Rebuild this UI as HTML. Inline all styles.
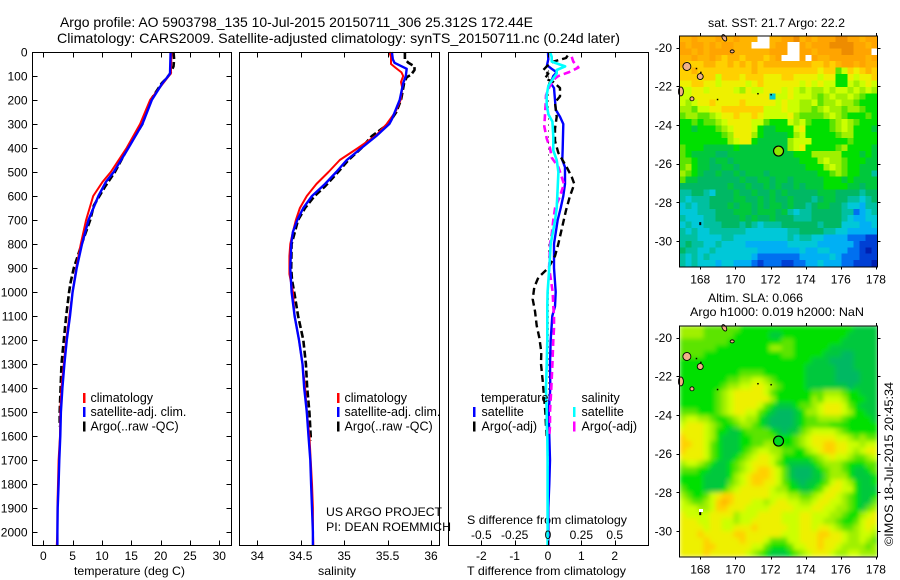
<!DOCTYPE html>
<html>
<head>
<meta charset="utf-8">
<title>Argo profile</title>
<style>
html,body{margin:0;padding:0;background:#fff;width:900px;height:580px;overflow:hidden}
svg{display:block}
text{font-family:"Liberation Sans",sans-serif;font-size:12px;fill:#000}
text.leg{font-size:12.5px}
</style>
</head>
<body>
<svg id="fig" xmlns="http://www.w3.org/2000/svg" width="900" height="580" viewBox="0 0 900 580">
<defs>
<filter id="slaSmooth" filterUnits="userSpaceOnUse" x="679.5" y="325.5" width="198" height="231">
<feGaussianBlur stdDeviation="2.4" edgeMode="duplicate"/>
</filter>
</defs>
<text x="60" y="27" style="font-size:14px" textLength="473" lengthAdjust="spacingAndGlyphs">Argo profile: AO 5903798_135 10-Jul-2015 20150711_306 25.312S 172.44E</text>
<text x="57" y="43" style="font-size:14px" textLength="563" lengthAdjust="spacingAndGlyphs">Climatology: CARS2009. Satellite-adjusted climatology: synTS_20150711.nc (0.24d later)</text>
<text x="708" y="27" textLength="137" lengthAdjust="spacingAndGlyphs">sat. SST: 21.7 Argo: 22.2</text>
<text x="708" y="302" textLength="95" lengthAdjust="spacingAndGlyphs">Altim. SLA: 0.066</text>
<text x="690" y="316" textLength="174" lengthAdjust="spacingAndGlyphs">Argo h1000: 0.019 h2000: NaN</text>
<text transform="translate(893,546) rotate(-90)" textLength="164" lengthAdjust="spacingAndGlyphs">©IMOS 18-Jul-2015 20:45:34</text>
<text x="74" y="575" textLength="111" lengthAdjust="spacingAndGlyphs">temperature (deg C)</text>
<text x="318" y="575" textLength="38" lengthAdjust="spacingAndGlyphs">salinity</text>
<text x="467" y="575" textLength="159" lengthAdjust="spacingAndGlyphs">T difference from climatology</text>
<text x="467" y="524" textLength="160" lengthAdjust="spacingAndGlyphs">S difference from climatology</text>
<text x="326" y="516" textLength="116" lengthAdjust="spacingAndGlyphs">US ARGO PROJECT</text>
<text x="326" y="531" textLength="125" lengthAdjust="spacingAndGlyphs">PI: DEAN ROEMMICH</text>
</svg>
<script>
// ---------- profile data (depth in dbar, values in physical units) ----------
var depthTicks = [0,100,200,300,400,500,600,700,800,900,1000,1100,1200,1300,1400,1500,1600,1700,1800,1900,2000];
var tempTicks = [0,5,10,15,20,25,30];
var salTicks = [34,34.5,35,35.5,36];
var salTickLabels = ['34','34.5','35','35.5','36'];
var tDiffTicks = [-2,-1,0,1,2];
var sDiffTicks = [-0.5,-0.25,0,0.25,0.5];
var sDiffTickLabels = ['-0.5','-0.25','0','0.25','0.5'];

var tempSatDepth = [0,90,100,130,200,300,400,500,540,600,700,800,900,1000,1100,1200,1300,1400,1500,1600,1700,1800,1900,2000,2055];
var tempSat = [21.7,21.6,21.3,20.3,18.5,16.9,14.5,12.0,10.7,9.4,7.7,6.6,5.7,5.0,4.55,4.0,3.6,3.25,3.0,2.9,2.73,2.6,2.45,2.4,2.4];
var tempClimDepth = [0,90,100,200,300,400,500,540,600,700,800,900,1000,1100,1200,1300,1400,1500,1600,1700,1800,1900,2000,2055];
var tempClim = [21.85,21.75,21.4,18.2,16.5,14.2,11.5,10.15,8.5,7.3,6.4,5.6,5.0,4.45,3.9,3.5,3.1,2.9,2.85,2.6,2.5,2.4,2.4,2.3];
var tempArgoDepth = [0,30,60,90,110,130,200,300,400,500,562,640,700,800,900,960,1000,1100,1200,1300,1400,1500,1560];
var tempArgo = [22.2,22.3,22.2,21.6,21.0,20.2,18.3,16.9,14.4,12.2,10.5,8.6,8.0,6.55,5.2,4.65,4.4,3.9,3.5,3.1,2.95,2.8,2.8];

var salSatDepth = [0,30,45,70,100,130,200,280,300,350,400,450,500,550,600,650,700,750,800,900,1000,1100,1200,1300,1400,1500,1600,1700,1800,1900,2000,2055];
var salSat = [35.55,35.56,35.58,35.72,35.71,35.68,35.64,35.55,35.52,35.37,35.2,35.03,34.91,34.78,34.63,34.53,34.46,34.41,34.39,34.38,34.395,34.43,34.48,34.52,34.54,34.57,34.59,34.61,34.62,34.63,34.64,34.64];
var salClimDepth = [0,20,50,65,85,100,125,150,200,250,300,350,400,450,500,550,600,650,700,750,800,850,925,1000,1100,1200,1300,1400,1500,1600,1700,1800,1900,2000,2055];
var salClim = [35.52,35.54,35.54,35.59,35.66,35.68,35.655,35.67,35.65,35.59,35.49,35.36,35.16,34.95,34.82,34.68,34.57,34.49,34.445,34.41,34.38,34.37,34.37,34.41,34.43,34.48,34.52,34.55,34.57,34.6,34.615,34.63,34.64,34.64,34.645];
var salArgoDepth = [0,30,45,60,75,95,105,130,200,250,300,350,400,450,500,560,600,650,700,800,900,950,1010,1100,1200,1300,1400,1500,1600,1620];
var salArgo = [35.7,35.7,35.74,35.81,35.81,35.77,35.72,35.69,35.655,35.6,35.51,35.32,35.2,35.05,34.93,34.78,34.66,34.55,34.47,34.395,34.39,34.4,34.43,34.47,34.53,34.56,34.575,34.6,34.615,34.615];

var tDiffSatDepth = [0,30,55,70,85,100,130,150,200,240,270,300,400,450,480,550,600,650,700,800,900,1000,1060,1100,1200,1300,1400,1500,1600,1700,1800,1900,2000,2055];
var tDiffSat = [0,0.01,-0.03,0.11,0.26,0.16,0.08,0.18,0.21,0.23,0.36,0.46,0.44,0.43,0.51,0.51,0.46,0.38,0.29,0.18,0.18,0.23,0.21,0.13,0.08,0.06,0.07,0.02,0.04,0.06,0.04,0.01,0.01,0.01];
var tDiffArgoDepth = [15,25,40,60,75,90,110,125,150,185,210,270,320,370,420,480,520,550,600,660,720,800,850,900,940,980,1030,1080,1140,1190,1250,1300,1370,1450,1500,1560,1600];
var tDiffArgo = [0.59,0.54,0.16,-0.04,-0.14,0.01,-0.09,0.16,0.36,0.36,0.21,0.26,0.21,0.21,0.31,0.56,0.71,0.79,0.66,0.54,0.44,0.31,0.21,0.01,-0.29,-0.41,-0.46,-0.39,-0.34,-0.26,-0.2,-0.21,-0.16,-0.11,-0.08,-0.06,-0.04];
var sDiffSatDepth = [0,20,40,60,75,90,110,140,180,220,260,290,350,410,450,500,600,650,700,800,900,1000,1060,1100,1200,1300,1400,1500,1550,1600,1700,1800,1900,2000,2055];
var sDiffSat = [0.015,0.028,0.028,0.128,0.065,0.065,0.04,0.003,-0.01,-0.01,0.003,0.033,0.04,0.04,0.065,0.078,0.07,0.065,0.053,0.02,0.01,-0.003,-0.005,-0.005,-0.005,-0.01,-0.015,-0.01,-0.01,-0.005,-0.003,-0.003,-0.003,-0.003,-0.003];
var sDiffArgoDepth = [20,40,65,85,100,110,140,180,220,310,360,400,440,480,550,600,650,700,760,800,900,1000,1060,1100,1150,1200,1300,1400,1500,1560,1600];
var sDiffArgo = [0.178,0.19,0.228,0.153,0.078,0.053,0.015,-0.015,-0.018,-0.028,-0.01,0.015,0.028,0.078,0.12,0.09,0.053,0.04,0.028,0.015,0.008,0.035,0.04,0.045,0.045,0.04,0.033,0.025,0.015,0.015,0.01];

// ---------- map data: rows of colour-level letters, north to south ----------
var levelKeys = 'abcdefghijklmnopqw';
var levelColors = ['#ee8c00','#ffa400','#ffb400','#ffd000','#eef000','#ccff00','#a0f000','#5ce400','#00e000','#00c83c','#00b864','#00c0a0','#00c8d8','#00b0f4','#0070f0','#0040d4','#0020b0','#ffffff'];
var mapLonTicks = [168,170,172,174,176,178];
var mapLatTicks = [-20,-22,-24,-26,-28,-30];
var mapLonRange = [166.82,178.09];
var mapLatRange = [-19.38,-31.31];
var sstRows = [
'ccbcccbccbcccwwccbbacbcbbbaabbcbb',
'bcbbcbcbbcccwwwcbbwwbcbbbaaaabbcb',
'bbcbcbbbbccccccbbbwwbbcbbbbaabbbw',
'ccbccbcdccdcccdcbwwwbwbccbbbbbbcb',
'cdddccddcdcdcdccccccccddcdcbbcbcc',
'ddcdddddddddcddddddddddeddhfdedcd',
'dddeddfdddedddeeeddeeeefeeiiefeed',
'eeddeefeeeefedeeeeeefefeffiifgfef',
'ffeefeeeefgeffeeefefgfggfgffgfgfg',
'ffeeeeeeeeeeeeemffefffghgfggfghii',
'fgfeedeeeedeeeeefeffggfhggfgghiii',
'gghffeedddddddfffeffgghgfgghgghii',
'hgghhgfeedeedeffffeghhhhgfghiiihi',
'iihihhgfeeeeffhiiifgfhiiihgfghiii',
'iijiiihgfeeefijjiiifeiiiihgfgiiij',
'iiiiiiihgeeegijjjjigfiiiiihggiiii',
'iiiiiiiigfeeijjjjjgfffiiiiiihiiii',
'hiiijjjjjijjjjjjjjgfeiiiiihgiiiij',
'hijjjjkkjjjjjjjjjjjiiigggggiiijij',
'hhijjkjjkjjjjjjjjjjjiiigfgghiiijj',
'hgijjkkjjkjjjjjjjjjjjiiigfghiijjj',
'ghijkkjkkjkjjjkjjjjjjjjiihghiijjl',
'hjjkkkkkkkjkkjjkjjkjjjjjiiijijjjj',
'kkkkkkkkjkkjkkjkjkkjkjjjiiiijjkjj',
'llkklmkkkjkkjkkjkjkkkkkjjjkkkklkk',
'lmlllkkkkjjkkjkjkkjkkklkjjkkllmlk',
'mlmllkkkjkjjkjkjjkjkklkjjkklmmnll',
'mmmlllkkkjjjkjjjkjlmllkkkkkllonml',
'lmmmllkkkkjkjkkjkkklllkkkkklmnnmm',
'mlmmlllkkklklmlllkkkkkklkkkmmmnnm',
'lmlmmllllllmmmmmmmllkkkkllmmnnnnn',
'lllmmmmllmmmmmmmmmlmllmmnnnnooopp',
'lkllmmlmmmmnnnnnnnmmmmmnnnnnnoppp',
'kllmmlmmmmmmmnnnnnnnmnnmmnnnoopqp',
'lmlmlmmmmmmmnooooooonnnnnmnoooppp',
'lmlmmmnmmnnnopoooppoonnmnnnoopppq'
];
var slaRows = [
'gggghhhhhhiiiiiiiiiiiiiiiiiiijjjj',
'gggghhhhhiiiiiijjiiiiiiiiiiijjjjj',
'hhhhhhhhiiiiiiiiihhiiiiiiiijjjjjj',
'hhhhhhiiiiiiiiigghhiiiiiijjjjjjjj',
'hhhhiiiiiiiiiiiiihhiiiiijjjkkjjjj',
'iiiiiiiiiiiiiiiiiiiiiijjjkkkkjjjj',
'iiiiiiiiiiiiiiiiiiiiijjjjjkkkjjjj',
'iiiiiiiiiihhhhiiiiiiijjjjjkkkkjjj',
'iiiiiiiihhggffghiiiiijjjjjkkkkjjj',
'iiiiiiihggffeefghiiiijjjjjjjkjjjj',
'iiiiiihgfeeeeefhiiiiiihhggghiijjj',
'iiiiiihgfeeeeeegiiiiiighfffgiiijj',
'iiiiiihgfeeeefhijjjihhgfeeefhijjj',
'hhhiiihgfeeffhijkkkjiggfeeefgiijj',
'gffgghiihgfggijkkkkjihhgggghiiiij',
'feeefghiihgghijkkkkjihhhhiiiiiiii',
'eeeefgiijjihhhhijkjjhgffffghiiiii',
'deeefgijjjiihhhhiiihgfeeeeffghghh',
'ddeefhijjjiihhgghiihgfeeddeeffgff',
'deeefhijjjihgffgghhiigfeddeefgfee',
'eeeefhijjihgfeefgiiiiihgfeffghhgf',
'gffghijjihgfeeefhijjjjihggghiiihh',
'hhhiijjjihgfeddefhjkkkjihgghijjih',
'iiiijjjjigfedddefhjkkkjjhgggijjji',
'iiiijjjjhgfeddeefhijkjjihfefgijji',
'hiiijjjigfeeeeefggiijjihfeeffijjj',
'ghiihfeddeeeeeefffgghhgfeefghijji',
'fghhgfdcdeeeffgfeeffggfeeffghijjh',
'fffggfddeeeffffeeeefffeeffgghijhg',
'effffeeeegfffeeeefffeefffgghiigfe',
'eeeffeeffgffeeeeefffeeffgghiihfee',
'eeeefeeffeeedeeeeeffeefeefghhgfef',
'eeedeeeeeddeeeeeefffeeeddeefggffg',
'eeeedeeeeedeeefhhhffeeedeeefggfgh',
'eeeeddeeeeeeffhiiihffeedeefgggghg',
'eeeedeeeeeefghijjjihgfeeefggffggg'
];
// islands: lon, lat, half-width px, half-height px, rotation deg
var islandLon = [169.37,169.82,167.24,168.0,166.9,167.53];
var islandLat = [-19.5,-20.2,-20.98,-21.5,-22.27,-22.65];
var islandRx = [2,2,4,3,2.5,2];
var islandRy = [3.5,1.5,4,3,4.5,2];
var islandRot = [-30,0,35,45,0,0];
var reefLon = [167.8,168.05,169,171.3,172.05,168];
var reefLat = [-21.1,-21.3,-22.7,-22.4,-22.45,-29.07];
var argoLon = 172.44;
var argoLat = -25.312;

// ---------- layout ----------
var SVGNS = 'http://www.w3.org/2000/svg';
var fig = document.getElementById('fig');
function mk(tag, attrs, parent) {
  var el = document.createElementNS(SVGNS, tag);
  for (var k in attrs) { el.setAttribute(k, attrs[k]); }
  (parent || fig).appendChild(el);
  return el;
}
function label(txt, x, y, anchor, name, cls) {
  var el = mk('text', {x: x, y: y, 'text-anchor': anchor || 'middle'});
  if (cls) { el.setAttribute('class', cls); }
  el.textContent = txt;
  
  
  return el;
}
var PT = 52.5, PB = 545.5;
function yDepth(d) { return 52 + 0.24 * d; }
function linear(v0, x0, v1, x1) { return function (v) { return x0 + (v - v0) * (x1 - x0) / (v1 - v0); }; }
var xTemp = linear(0, 43.3, 30, 219.3);
var xSal = linear(34, 257.3, 36, 431);
var xT = linear(0, 548, 2, 614.7);
var xS = linear(0, 548, 0.5, 614.7);

function series(xs, depths, vals, xf, color, width, dash, name) {
  var pts = [];
  for (var i = 0; i < depths.length; i++) {
    pts.push(xf(vals[i]).toFixed(1) + ',' + yDepth(depths[i]).toFixed(1));
  }
  var attrs = {points: pts.join(' '), fill: 'none', stroke: color, 'stroke-width': width, 'stroke-linejoin': 'round'};
  if (dash) { attrs['stroke-dasharray'] = dash; }
  var el = mk('polyline', attrs);
  
  
  return el;
}
function frame(x0, x1, name) {
  var el = mk('rect', {x: x0, y: PT, width: x1 - x0, height: PB - PT, fill: 'none', stroke: '#000', 'stroke-width': 1, 'shape-rendering': 'crispEdges'});
  
  
}
function xTicks(vals, xf, top, bottom) {
  for (var i = 0; i < vals.length; i++) {
    var x = Math.round(xf(vals[i])) + 0.5;
    if (top) {
      var t = mk('line', {x1: x, x2: x, y1: PT, y2: PT + 5, stroke: '#000', 'shape-rendering': 'crispEdges'});
      
      
    }
    if (bottom) {
      var b = mk('line', {x1: x, x2: x, y1: PB, y2: PB - 5, stroke: '#000', 'shape-rendering': 'crispEdges'});
      
      
    }
  }
}
function legendBar(x, yc, color, name) {
  var el = mk('rect', {x: x - 1, y: yc - 5, width: 2.4, height: 10, fill: color, 'shape-rendering': 'crispEdges'});
  
  
}

// ---------- panel 1: temperature ----------
series(0, tempArgoDepth, tempArgo, xTemp, '#000', 2.6, '7 3', 'temperature-argo-line');
series(0, tempClimDepth, tempClim, xTemp, '#ff0000', 2, null, 'temperature-climatology-line');
series(0, tempSatDepth, tempSat, xTemp, '#0000ff', 2.4, null, 'temperature-satellite-line');
frame(32.5, 231.5, 'temperature-panel-frame');
xTicks(tempTicks, xTemp, true, true);
tempTicks.forEach(function (v) { label(String(v), xTemp(v), 560, 'middle', 'temperature-tick-label'); });
depthTicks.forEach(function (d) {
  var y = Math.round(yDepth(d)) + 0.5;
  var l = mk('line', {x1: 32.5, x2: 37.5, y1: y, y2: y, stroke: '#000', 'shape-rendering': 'crispEdges'});
  
  
  var r = mk('line', {x1: 226.5, x2: 231.5, y1: y, y2: y, stroke: '#000', 'shape-rendering': 'crispEdges'});
  
  
  label(String(d), 27.5, yDepth(d) + 4.5, 'end', 'depth-tick-label');
});
legendBar(84, 398, '#ff0000', 'legend-swatch-climatology');
legendBar(84, 412, '#0000ff', 'legend-swatch-satellite');
legendBar(84, 426.5, '#000', 'legend-swatch-argo');
label('climatology', 90.5, 402, 'start', 'legend-label-climatology', 'leg');
label('satellite-adj. clim.', 90.5, 416, 'start', 'legend-label-satellite', 'leg');
label('Argo(..raw -QC)', 90.5, 430.5, 'start', 'legend-label-argo', 'leg');

// ---------- panel 2: salinity ----------
series(0, salArgoDepth, salArgo, xSal, '#000', 2.6, '7 3', 'salinity-argo-line');
series(0, salClimDepth, salClim, xSal, '#ff0000', 2, null, 'salinity-climatology-line');
series(0, salSatDepth, salSat, xSal, '#0000ff', 2.4, null, 'salinity-satellite-line');
frame(239.5, 439.5, 'salinity-panel-frame');
xTicks(salTicks, xSal, true, true);
salTicks.forEach(function (v, i) { label(salTickLabels[i], xSal(v), 560, 'middle', 'salinity-tick-label'); });
legendBar(338, 398, '#ff0000', 'legend-swatch-climatology');
legendBar(338, 412, '#0000ff', 'legend-swatch-satellite');
legendBar(338, 426.5, '#000', 'legend-swatch-argo');
label('climatology', 344.5, 402, 'start', 'legend-label-climatology', 'leg');
label('satellite-adj. clim.', 344.5, 416, 'start', 'legend-label-satellite', 'leg');
label('Argo(..raw -QC)', 344.5, 430.5, 'start', 'legend-label-argo', 'leg');

// ---------- panel 3: differences ----------
var zero = mk('line', {x1: 548.5, x2: 548.5, y1: PT, y2: PB, stroke: '#000', 'stroke-width': 1, 'stroke-dasharray': '1 5', 'shape-rendering': 'crispEdges'});


series(0, tDiffSatDepth, tDiffSat, xT, '#0000ff', 2.4, null, 't-difference-satellite-line');
series(0, tDiffArgoDepth, tDiffArgo, xT, '#000', 2.4, '7 4', 't-difference-argo-line');
series(0, sDiffArgoDepth, sDiffArgo, xS, '#ff00ff', 2.6, '7 4', 's-difference-argo-line');
series(0, sDiffSatDepth, sDiffSat, xS, '#00ffff', 2.6, null, 's-difference-satellite-line');
frame(448.5, 648.5, 'difference-panel-frame');
xTicks(tDiffTicks, xT, true, true);
tDiffTicks.forEach(function (v) { label(String(v), xT(v), 560, 'middle', 't-difference-tick-label'); });
sDiffTicks.forEach(function (v, i) { label(sDiffTickLabels[i], xS(v), 539, 'middle', 's-difference-tick-label'); });
label('temperature', 481, 402, 'start', 'legend-heading-temperature', 'leg');
label('salinity', 581.5, 402, 'start', 'legend-heading-salinity', 'leg');
legendBar(474, 412, '#0000ff', 'legend-swatch-t-satellite');
legendBar(474, 426.5, '#000', 'legend-swatch-t-argo');
legendBar(574, 412, '#00ffff', 'legend-swatch-s-satellite');
legendBar(574, 426.5, '#ff00ff', 'legend-swatch-s-argo');
label('satellite', 481.5, 416, 'start', 'legend-label-t-satellite', 'leg');
label('Argo(-adj)', 481.5, 430.5, 'start', 'legend-label-t-argo', 'leg');
label('satellite', 581.5, 416, 'start', 'legend-label-s-satellite', 'leg');
label('Argo(-adj)', 581.5, 430.5, 'start', 'legend-label-s-argo', 'leg');

// ---------- maps ----------
function drawMap(rows, top, name, circleFill, smooth) {
  var X0 = 679.5, X1 = 877.5, Y0 = top, Y1 = top + 231;
  var xLon = linear(mapLonRange[0], X0, mapLonRange[1], X1);
  var yLat = linear(mapLatRange[0], Y0, mapLatRange[1], Y1);
  var g = mk('g', {'shape-rendering': 'crispEdges'});
  if (smooth) { g.setAttribute('filter', 'url(#slaSmooth)'); }
  
  
  var nr = rows.length;
  for (var r = 0; r < nr; r++) {
    var nc = 33;
    for (var c = 0; c < nc; c++) {
      var ch = rows[r].charAt(Math.min(c, rows[r].length - 1));
      var cx0 = X0 + (X1 - X0) * c / nc, cx1 = X0 + (X1 - X0) * (c + 1) / nc;
      var cy0 = Y0 + (Y1 - Y0) * r / nr, cy1 = Y0 + (Y1 - Y0) * (r + 1) / nr;
      var cell = mk('rect', {x: cx0.toFixed(2), y: cy0.toFixed(2), width: (cx1 - cx0 + 0.4).toFixed(2), height: (cy1 - cy0 + 0.4).toFixed(2), fill: levelColors[levelKeys.indexOf(ch)]}, g);
      
      
    }
  }
  islandLon.forEach(function (lon, i) {
    var px = xLon(lon), py = yLat(islandLat[i]);
    var e = mk('ellipse', {cx: px, cy: py, rx: islandRx[i], ry: islandRy[i], fill: '#f0b088', stroke: '#000', 'stroke-width': 0.9, transform: 'rotate(' + islandRot[i] + ' ' + px + ' ' + py + ')'});
    
    
  });
  reefLon.forEach(function (lon, i) {
    var d = mk('rect', {x: xLon(lon) - 1, y: yLat(reefLat[i]) - 1, width: i === 5 ? 2 : 1.5, height: i === 5 ? 3 : 1.5, fill: '#000'});
    
    
  });
  if (smooth) {
    var gap = mk('rect', {x: xLon(168) - 1, y: yLat(-29.07) - 4, width: 4, height: 3, fill: '#fff', 'shape-rendering': 'crispEdges'});
    
    
  }
  var circle = mk('circle', {cx: xLon(argoLon) + 0.3, cy: yLat(argoLat) + 0.7, r: 5, fill: circleFill, stroke: '#000', 'stroke-width': 1.2});
  
  
  var fr = mk('rect', {x: X0, y: Y0 + 0.5, width: X1 - X0, height: Y1 - Y0, fill: 'none', stroke: '#000', 'stroke-width': 1, 'shape-rendering': 'crispEdges'});
  
  
  mapLonTicks.forEach(function (lon) {
    var x = Math.round(xLon(lon)) + 0.5;
    var t1 = mk('line', {x1: x, x2: x, y1: Y0 - 2.5, y2: Y0, stroke: '#000', 'shape-rendering': 'crispEdges'});
    
    
    var t2 = mk('line', {x1: x, x2: x, y1: Y1, y2: Y1 + 3, stroke: '#000', 'shape-rendering': 'crispEdges'});
    
    
    label(String(lon), xLon(lon), Y1 + 17, 'middle', 'map-lon-label');
  });
  mapLatTicks.forEach(function (lat) {
    var y = Math.round(yLat(lat)) + 0.5;
    var t1 = mk('line', {x1: X0 - 3, x2: X0, y1: y, y2: y, stroke: '#000', 'shape-rendering': 'crispEdges'});
    
    
    var t2 = mk('line', {x1: X1, x2: X1 + 3, y1: y, y2: y, stroke: '#000', 'shape-rendering': 'crispEdges'});
    
    
    label(String(lat), X0 - 7.5, yLat(lat) + 4.5, 'end', 'map-lat-label');
  });
}
drawMap(sstRows, 35.5, 'sst-map', '#8ee800', false);
drawMap(slaRows, 325.5, 'sla-map', '#00d820', true);
</script>
</body>
</html>
